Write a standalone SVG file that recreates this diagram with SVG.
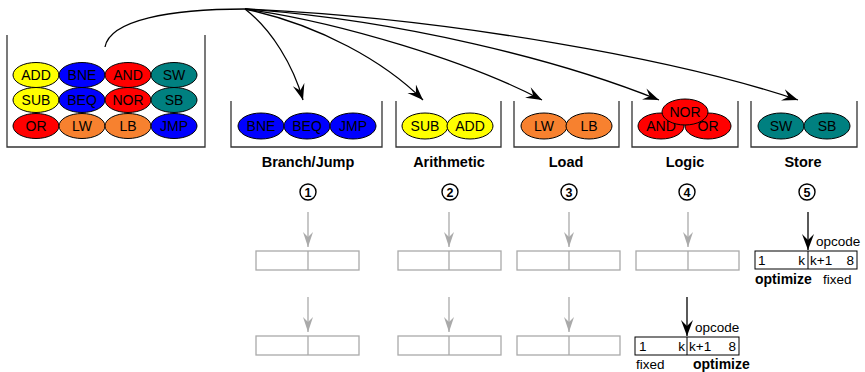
<svg xmlns="http://www.w3.org/2000/svg" width="865" height="372" viewBox="0 0 865 372">
  <style>
    .bin { fill: none; stroke: #333; stroke-width: 1.3; }
    .op { stroke: #000; stroke-width: 1; }
    .op-text { font-family: "Liberation Sans", Arial, sans-serif; font-size: 14px; fill: #000; text-anchor: middle; dominant-baseline: central; }
    .yellow { fill: #ffff00; }
    .blue { fill: #0000ff; }
    .red { fill: #ff0000; }
    .teal { fill: #008080; }
    .orange { fill: #f7812f; }
    .label { font-family: "Liberation Sans", Arial, sans-serif; font-size: 14.5px; font-weight: bold; text-anchor: middle; fill: #000; }
    .num-circle { fill: #fff; stroke: #000; stroke-width: 1.4; }
    .num { font-family: "Liberation Sans", Arial, sans-serif; font-size: 12.5px; font-weight: bold; text-anchor: middle; dominant-baseline: central; fill: #000; }
    .flow { fill: none; stroke: #000; stroke-width: 1.3; }
    .gray-arrow { stroke: #aaa; stroke-width: 1.3; fill: none; }
    .gray-box { fill: #fff; stroke: #aaa; stroke-width: 1.3; }
    .field { fill: #fff; stroke: #000; stroke-width: 1; }
    .small { font-family: "Liberation Sans", Arial, sans-serif; font-size: 13.5px; fill: #000; }
    .small-bold { font-family: "Liberation Sans", Arial, sans-serif; font-size: 14px; font-weight: bold; fill: #000; }
  </style>
  <defs>
    <marker id="head" markerUnits="userSpaceOnUse" markerWidth="18" markerHeight="14" viewBox="-16 -7 18 14" refX="0" refY="0" orient="auto">
      <path d="M0,0 L-16,-6 L-10,0 L-16,6 Z" fill="#000"/>
    </marker>
    <marker id="head-gray" markerUnits="userSpaceOnUse" markerWidth="18" markerHeight="14" viewBox="-16 -7 18 14" refX="0" refY="0" orient="auto">
      <path d="M0,0 L-15,-5 L-10,0 L-15,5 Z" fill="#aaa"/>
    </marker>
  </defs>

  <!-- source bin holding all instructions -->
  <g id="pool">
    <path class="bin" d="M7,35 V147 H205 V35"/>
    <ellipse class="op yellow" cx="36" cy="75" rx="23" ry="12.5"/>
    <ellipse class="op blue" cx="82" cy="75" rx="23" ry="12.5"/>
    <ellipse class="op red" cx="128" cy="75" rx="23" ry="12.5"/>
    <ellipse class="op teal" cx="174" cy="75" rx="23" ry="12.5"/>
    <ellipse class="op yellow" cx="36" cy="100" rx="23" ry="12.5"/>
    <ellipse class="op blue" cx="82" cy="100" rx="23" ry="12.5"/>
    <ellipse class="op red" cx="128" cy="100" rx="23" ry="12.5"/>
    <ellipse class="op teal" cx="174" cy="100" rx="23" ry="12.5"/>
    <ellipse class="op red" cx="36" cy="126" rx="23" ry="12.5"/>
    <ellipse class="op orange" cx="82" cy="126" rx="23" ry="12.5"/>
    <ellipse class="op orange" cx="128" cy="126" rx="23" ry="12.5"/>
    <ellipse class="op blue" cx="174" cy="126" rx="23" ry="12.5"/>
    <text class="op-text" x="36" y="75">ADD</text>
    <text class="op-text" x="82" y="75">BNE</text>
    <text class="op-text" x="128" y="75">AND</text>
    <text class="op-text" x="174" y="75">SW</text>
    <text class="op-text" x="36" y="100">SUB</text>
    <text class="op-text" x="82" y="100">BEQ</text>
    <text class="op-text" x="128" y="100">NOR</text>
    <text class="op-text" x="174" y="100">SB</text>
    <text class="op-text" x="36" y="126">OR</text>
    <text class="op-text" x="82" y="126">LW</text>
    <text class="op-text" x="128" y="126">LB</text>
    <text class="op-text" x="174" y="126">JMP</text>
  </g>

  <!-- group bins -->
  <g id="branch">
    <path class="bin" d="M231,101 V147 H382 V101"/>
    <ellipse class="op blue" cx="261" cy="126" rx="23" ry="13"/>
    <ellipse class="op blue" cx="307" cy="126" rx="23" ry="13"/>
    <ellipse class="op blue" cx="353" cy="126" rx="23" ry="13"/>
    <text class="op-text" x="261" y="126">BNE</text>
    <text class="op-text" x="307" y="126">BEQ</text>
    <text class="op-text" x="353" y="126">JMP</text>
    <text class="label" x="308" y="167">Branch/Jump</text>
    <circle class="num-circle" cx="308" cy="192" r="8"/>
    <text class="num" x="308" y="192.5">1</text>
  </g>
  <g id="arith">
    <path class="bin" d="M396,101 V147 H501 V101"/>
    <ellipse class="op yellow" cx="425" cy="126" rx="23" ry="13"/>
    <ellipse class="op yellow" cx="470" cy="126" rx="23" ry="13"/>
    <text class="op-text" x="425" y="126">SUB</text>
    <text class="op-text" x="470" y="126">ADD</text>
    <text class="label" x="449" y="167">Arithmetic</text>
    <circle class="num-circle" cx="450" cy="192" r="8"/>
    <text class="num" x="450" y="192.5">2</text>
  </g>
  <g id="load">
    <path class="bin" d="M514,101 V147 H619 V101"/>
    <ellipse class="op orange" cx="544" cy="126" rx="23" ry="13"/>
    <ellipse class="op orange" cx="589" cy="126" rx="23" ry="13"/>
    <text class="op-text" x="544" y="126">LW</text>
    <text class="op-text" x="589" y="126">LB</text>
    <text class="label" x="566" y="167">Load</text>
    <circle class="num-circle" cx="569" cy="192" r="8"/>
    <text class="num" x="569" y="192.5">3</text>
  </g>
  <g id="logic">
    <path class="bin" d="M632,101 V147 H738 V101"/>
    <ellipse class="op red" cx="661" cy="126" rx="23" ry="13"/>
    <ellipse class="op red" cx="708" cy="126" rx="23" ry="13"/>
    <text class="op-text" x="661" y="126">AND</text>
    <text class="op-text" x="708" y="126">OR</text>
    <ellipse class="op red" cx="685" cy="112" rx="23" ry="13"/>
    <text class="op-text" x="685" y="112">NOR</text>
    <text class="label" x="685" y="167">Logic</text>
    <circle class="num-circle" cx="687" cy="192" r="8"/>
    <text class="num" x="687" y="192.5">4</text>
  </g>
  <g id="store">
    <path class="bin" d="M751,101 V147 H857 V101"/>
    <ellipse class="op teal" cx="781" cy="126" rx="23" ry="13"/>
    <ellipse class="op teal" cx="827" cy="126" rx="23" ry="13"/>
    <text class="op-text" x="781" y="126">SW</text>
    <text class="op-text" x="827" y="126">SB</text>
    <text class="label" x="803" y="167">Store</text>
    <circle class="num-circle" cx="807" cy="192" r="8"/>
    <text class="num" x="807" y="192.5">5</text>
  </g>

  <!-- unused opcode slots -->
  <g id="slots">
    <line class="gray-arrow" x1="308" y1="212" x2="308" y2="247" marker-end="url(#head-gray)"/>
    <line class="gray-arrow" x1="449" y1="212" x2="449" y2="247" marker-end="url(#head-gray)"/>
    <line class="gray-arrow" x1="569" y1="212" x2="569" y2="247" marker-end="url(#head-gray)"/>
    <line class="gray-arrow" x1="688" y1="212" x2="688" y2="247" marker-end="url(#head-gray)"/>
    <line class="gray-arrow" x1="308" y1="297" x2="308" y2="332" marker-end="url(#head-gray)"/>
    <line class="gray-arrow" x1="449" y1="297" x2="449" y2="332" marker-end="url(#head-gray)"/>
    <line class="gray-arrow" x1="569" y1="297" x2="569" y2="332" marker-end="url(#head-gray)"/>
    <rect class="gray-box" x="256" y="251" width="103" height="19"/>
    <line class="gray-arrow" x1="308" y1="251" x2="308" y2="270"/>
    <rect class="gray-box" x="398" y="251" width="103" height="19"/>
    <line class="gray-arrow" x1="449" y1="251" x2="449" y2="270"/>
    <rect class="gray-box" x="517" y="251" width="103" height="19"/>
    <line class="gray-arrow" x1="569" y1="251" x2="569" y2="270"/>
    <rect class="gray-box" x="636" y="251" width="103" height="19"/>
    <line class="gray-arrow" x1="688" y1="251" x2="688" y2="270"/>
    <rect class="gray-box" x="256" y="336" width="103" height="19"/>
    <line class="gray-arrow" x1="308" y1="336" x2="308" y2="355"/>
    <rect class="gray-box" x="398" y="336" width="103" height="19"/>
    <line class="gray-arrow" x1="449" y1="336" x2="449" y2="355"/>
    <rect class="gray-box" x="517" y="336" width="103" height="19"/>
    <line class="gray-arrow" x1="569" y1="336" x2="569" y2="355"/>
  </g>

  <!-- store opcode word -->
  <g id="store-word">
    <line class="flow" x1="808" y1="212" x2="808" y2="250" marker-end="url(#head)"/>
    <rect class="field" x="755" y="251" width="102" height="18"/>
    <line class="field" x1="808" y1="251" x2="808" y2="269"/>
    <text class="small" x="816" y="246">opcode</text>
    <text class="small" x="758" y="265">1</text>
    <text class="small" x="805" y="265" text-anchor="end">k</text>
    <text class="small" x="810" y="265">k+1</text>
    <text class="small" x="854" y="265" text-anchor="end">8</text>
    <text class="small-bold" x="755" y="284">optimize</text>
    <text class="small" x="823" y="284">fixed</text>
  </g>

  <!-- logic opcode word -->
  <g id="logic-word">
    <line class="flow" x1="687" y1="297" x2="687" y2="336" marker-end="url(#head)"/>
    <rect class="field" x="635" y="337" width="104" height="18"/>
    <line class="field" x1="687" y1="337" x2="687" y2="355"/>
    <text class="small" x="695" y="332">opcode</text>
    <text class="small" x="639" y="351">1</text>
    <text class="small" x="685" y="351" text-anchor="end">k</text>
    <text class="small" x="689" y="351">k+1</text>
    <text class="small" x="736" y="351" text-anchor="end">8</text>
    <text class="small" x="636" y="369">fixed</text>
    <text class="small-bold" x="693" y="369">optimize</text>
  </g>

  <!-- distribution connectors -->
  <g id="connectors">
    <path class="flow" d="M105,47 C110,20 170,9 245,9"/>
    <path class="flow" d="M245,9 C272,30 293,65 303,100" marker-end="url(#head)"/>
    <path class="flow" d="M245,9 C320,25 385,62 423,100" marker-end="url(#head)"/>
    <path class="flow" d="M245,9 C340,22 470,62 542,100" marker-end="url(#head)"/>
    <path class="flow" d="M245,9 C400,20 560,60 659,100" marker-end="url(#head)"/>
    <path class="flow" d="M245,9 C450,18 680,60 798,100" marker-end="url(#head)"/>
  </g>
</svg>
